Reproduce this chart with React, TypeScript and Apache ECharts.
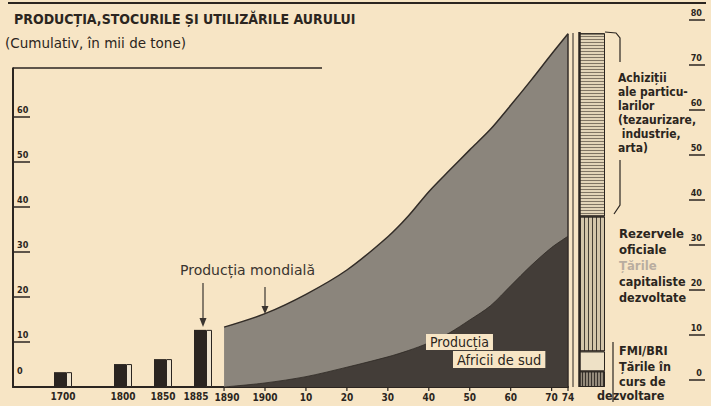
import React, { useEffect, useRef } from 'react';
import * as echarts from 'echarts';

// ---- data ----
const barCategories = ['', '', '1700', '', '', '1800', '', '1850', '', '1885'];
const barValues = [null, null, 3.3, null, null, 5.1, null, 6.2, null, 12.7];

const prodYears = [1890, 1900, 1910, 1920, 1930, 1935, 1940, 1945, 1950, 1955, 1960, 1965, 1970, 1974];
const worldProduction = [13.3, 16.3, 20.6, 26.0, 33.4, 38.0, 43.4, 48.1, 52.7, 57.2, 62.6, 68.2, 74.0, 78.5];
const southAfricaProduction = [0, 0.9, 2.3, 4.4, 6.7, 8.1, 9.8, 12.0, 14.9, 18.0, 22.5, 27.0, 31.0, 33.5];

const stockNames = ['Țările în curs de dezvoltare', 'FMI/BRI', 'Rezervele oficiale', 'Achiziții ale particularilor'];
const stockValues = [3.5, 4.4, 30.0, 40.7];

const xTickYears = [1890, 1900, 1910, 1920, 1930, 1940, 1950, 1960, 1970, 1974];
const leftTicks = [10, 20, 30, 40, 50, 60];
const rightTicks = [0, 10, 20, 30, 40, 50, 60, 70, 80];

const INK = '#2b2520';
const PAPER = '#f7e5c5';
const FONT = "'DejaVu Sans Condensed', 'Liberation Sans Narrow', 'DejaVu Sans', sans-serif";
const WIDE = "'DejaVu Sans', sans-serif";

// axis geometry (pixels) shared by the grids and the tick underlines
const BASE_Y = 387;
const LEFT_TOP = 117; // value 60 on the left axis
const RIGHT_BOTTOM = 380; // value 0 on the right axis
const RIGHT_TOP = 20; // value 80 on the right axis
const X0 = 213;
const X1 = 568;
const XMIN = 1887.3;
const XMAX = 1974;

export default function App() {
  const ref = useRef<HTMLDivElement>(null);
  useEffect(() => {
    if (!ref.current) return;
    const chart = echarts.init(ref.current, undefined, { renderer: 'svg' });
    const axisLabelBase = { color: INK, fontFamily: FONT, fontWeight: 'bold' as const, fontSize: 10 };
    const stockStyles = [
      { color: '#948a7b', decal: { symbol: 'rect', symbolSize: 1, symbolKeepAspect: false, color: 'rgba(40,34,30,0.85)', dashArrayX: [1, 2], dashArrayY: [10, 0], rotation: 0 } },
      { color: '#eee1c6' },
      { color: '#d3c5aa', decal: { symbol: 'rect', symbolSize: 1, symbolKeepAspect: false, color: 'rgba(45,40,34,0.85)', dashArrayX: [1, 3], dashArrayY: [10, 0], rotation: 0 } },
      { color: '#e2d4b8', decal: { symbol: 'rect', symbolSize: 1, symbolKeepAspect: false, color: 'rgba(95,85,72,0.75)', dashArrayX: [10, 0], dashArrayY: [1, 2], rotation: 0 } },
    ];
    const tickLines: any[] = [
      ...leftTicks.map((v) => {
        const y = BASE_Y - (v / 60) * (BASE_Y - LEFT_TOP);
        return { type: 'line', z: 100, shape: { x1: 13, y1: y, x2: 30, y2: y }, style: { stroke: INK, lineWidth: 1.5 } };
      }),
      ...rightTicks.map((v) => {
        const y = RIGHT_BOTTOM - (v / 80) * (RIGHT_BOTTOM - RIGHT_TOP);
        return { type: 'line', z: 100, shape: { x1: 689, y1: y, x2: 705, y2: y }, style: { stroke: INK, lineWidth: 1.5 } };
      }),
      ...xTickYears.map((yr) => {
        const x = X0 + ((yr - XMIN) / (XMAX - XMIN)) * (X1 - X0);
        return { type: 'line', z: 100, shape: { x1: x, y1: BASE_Y, x2: x, y2: BASE_Y + 4 }, style: { stroke: INK, lineWidth: 1.2 } };
      }),
    ];
    const graphic: any[] = [
      { type: 'line', z: 100, shape: { x1: 8, y1: 3, x2: 706, y2: 3 }, style: { stroke: INK, lineWidth: 2 } },
      { type: 'line', z: 100, shape: { x1: 13, y1: 68, x2: 322, y2: 68 }, style: { stroke: INK, lineWidth: 1.5 } },
      { type: 'line', z: 100, shape: { x1: 13, y1: 67.5, x2: 13, y2: 118 }, style: { stroke: INK, lineWidth: 2 } },
      { type: 'line', z: 100, shape: { x1: 573, y1: 33, x2: 573, y2: 387 }, style: { stroke: INK, lineWidth: 1 } },
      { type: 'line', z: 100, shape: { x1: 579.5, y1: 32, x2: 579.5, y2: 387 }, style: { stroke: INK, lineWidth: 2.5 } },
      { type: 'polyline', z: 100, shape: { points: [[605, 32], [616, 33], [620, 38], [620, 62]] }, style: { stroke: INK, lineWidth: 1.2, fill: null } },
      { type: 'polyline', z: 100, shape: { points: [[620, 160], [620, 205], [614, 214]] }, style: { stroke: INK, lineWidth: 1.2, fill: null } },
      { type: 'line', z: 100, shape: { x1: 613, y1: 342, x2: 613, y2: 402 }, style: { stroke: INK, lineWidth: 1.2 } },
      ...tickLines,
      {
        type: 'text', z: 100, left: 14, top: 12,
        style: { text: 'PRODUCȚIA,STOCURILE ȘI UTILIZĂRILE AURULUI', fill: INK, font: `bold 14px ${FONT}` },
      },
      {
        type: 'text', z: 100, left: 5, top: 36,
        style: { text: '(Cumulativ, în mii de tone)', fill: INK, font: `13.5px ${WIDE}` },
      },
      {
        type: 'text', z: 100, left: 180, top: 263,
        style: { text: 'Producția mondială', fill: '#3a342f', font: `14px ${WIDE}` },
      },
      { type: 'line', z: 100, shape: { x1: 203, y1: 283, x2: 203, y2: 320 }, style: { stroke: '#3a342f', lineWidth: 1.2 } },
      { type: 'polygon', z: 100, shape: { points: [[199.5, 318], [206.5, 318], [203, 327]] }, style: { fill: '#3a342f' } },
      { type: 'line', z: 100, shape: { x1: 265, y1: 287, x2: 265, y2: 308 }, style: { stroke: '#3a342f', lineWidth: 1.2 } },
      { type: 'polygon', z: 100, shape: { points: [[261.5, 306], [268.5, 306], [265, 314]] }, style: { fill: '#3a342f' } },
      {
        type: 'text', z: 100, left: 426, top: 334,
        style: { text: 'Producția', fill: INK, font: `14px ${FONT}`, backgroundColor: PAPER, padding: [1, 4, 1, 4] },
      },
      {
        type: 'text', z: 100, left: 453, top: 351,
        style: { text: 'Africii de sud', fill: INK, font: `14.5px ${FONT}`, backgroundColor: PAPER, padding: [1, 4, 1, 4] },
      },
      {
        type: 'text', z: 100, left: 618, top: 71,
        style: { text: 'Achiziții\nale particu-\nlarilor\n(tezaurizare,\n industrie,\narta)', fill: INK, font: `bold 12px ${FONT}`, lineHeight: 14 },
      },
      {
        type: 'text', z: 100, left: 619, top: 225,
        style: { text: 'Rezervele\noficiale', fill: INK, font: `bold 13px ${FONT}`, lineHeight: 16 },
      },
      {
        type: 'text', z: 100, left: 619, top: 257,
        style: { text: 'Țările', fill: '#b9ada0', font: `bold 13px ${FONT}`, lineHeight: 16 },
      },
      {
        type: 'text', z: 100, left: 619, top: 273,
        style: { text: 'capitaliste\ndezvoltate', fill: INK, font: `bold 12.5px ${FONT}`, lineHeight: 16 },
      },
      {
        type: 'text', z: 100, left: 619, top: 343,
        style: { text: 'FMI/BRI\nȚările în\ncurs de', fill: INK, font: `bold 12.5px ${FONT}`, lineHeight: 15.5 },
      },
      {
        type: 'text', z: 100, left: 597, top: 389,
        style: { text: 'dezvoltare', fill: INK, font: `bold 12.5px ${FONT}` },
      },
    ];
    const option: any = {
      animation: false,
      backgroundColor: PAPER,
      grid: [
        { left: 13, width: 200, top: LEFT_TOP, bottom: 406 - BASE_Y },
        { left: X0, width: X1 - X0, top: 27, bottom: 406 - BASE_Y },
        { left: 579, width: 26, top: 27, bottom: 406 - BASE_Y },
        { left: 689, right: 6, top: RIGHT_TOP, bottom: 406 - RIGHT_BOTTOM },
        { left: 13, width: 17, top: LEFT_TOP, bottom: 406 - BASE_Y },
      ],
      xAxis: [
        {
          gridIndex: 0, type: 'category', data: barCategories,
          axisLine: { lineStyle: { color: INK, width: 2 } },
          axisTick: { show: false },
          axisLabel: {
            ...axisLabelBase, interval: 0, margin: 4,
            formatter: (v: string) => (v === '1885' ? '{s|1885}' : v),
            rich: { s: { ...axisLabelBase, padding: [0, 14, 0, 0] } },
          },
        },
        {
          gridIndex: 1, type: 'value', min: XMIN, max: XMAX, splitNumber: 9,
          axisLine: { show: true, lineStyle: { color: INK, width: 2 } },
          axisTick: { show: false },
          splitLine: { show: false },
          axisLabel: {
            ...axisLabelBase, margin: 5, showMinLabel: true, showMaxLabel: true,
            formatter: (v: number) => {
              if (!xTickYears.includes(Math.round(v * 10) / 10)) return '';
              if (v === 1890) return '{a|1890}';
              if (v === 1900) return '1900';
              return String(v % 100);
            },
            rich: { a: { ...axisLabelBase, padding: [0, 0, 0, 6] } },
          },
        },
        { gridIndex: 2, type: 'category', data: ['1974'], show: false },
        { gridIndex: 3, type: 'value', min: 0, max: 1, show: false },
        { gridIndex: 4, type: 'value', min: 0, max: 1, show: false },
      ],
      yAxis: [
        { gridIndex: 0, type: 'value', min: 0, max: 60, interval: 10, show: false },
        { gridIndex: 1, type: 'value', min: 0, max: 80, show: false },
        { gridIndex: 2, type: 'value', min: 0, max: 80, show: false },
        {
          gridIndex: 3, type: 'value', min: 0, max: 80, interval: 10, position: 'right',
          axisLine: { show: false },
          axisTick: { show: false },
          splitLine: { show: false },
          axisLabel: {
            ...axisLabelBase, fontSize: 9, inside: true, margin: 3,
            verticalAlign: 'bottom', padding: [0, 0, 3, 0],
          },
        },
        {
          gridIndex: 4, type: 'value', min: 0, max: 60, interval: 10, position: 'left',
          axisLine: { show: true, lineStyle: { color: INK, width: 2 } },
          axisTick: { show: false },
          splitLine: { show: false },
          axisLabel: {
            ...axisLabelBase, fontSize: 9, inside: true, margin: 4,
            verticalAlign: 'bottom', padding: [0, 0, 3, 0],
            formatter: (v: number) => (v === 0 ? '{z|0}' : String(v)),
            rich: { z: { ...axisLabelBase, fontSize: 9, padding: [0, 0, 9, 0] } },
          },
        },
      ],
      series: [
        {
          type: 'bar', xAxisIndex: 0, yAxisIndex: 0, data: barValues, barWidth: 12, barGap: '0%',
          itemStyle: { color: '#2a2420' },
        },
        {
          type: 'bar', xAxisIndex: 0, yAxisIndex: 0, data: barValues, barWidth: 6,
          itemStyle: { color: '#efe4cf', borderColor: INK, borderWidth: 1 },
        },
        {
          name: 'Producția mondială', type: 'line', xAxisIndex: 1, yAxisIndex: 1,
          data: prodYears.map((y, i) => [y, worldProduction[i]]),
          smooth: 0.3, symbol: 'none',
          lineStyle: { color: '#332d28', width: 1.5 },
          areaStyle: { color: '#8b857c', opacity: 1 },
          markLine: {
            silent: true, symbol: 'none', label: { show: false },
            lineStyle: { color: '#332d28', width: 1.5, type: 'solid' },
            data: [[{ coord: [1974, 0] }, { coord: [1974, worldProduction[worldProduction.length - 1]] }]],
          },
        },
        {
          name: 'Producția Africii de sud', type: 'line', xAxisIndex: 1, yAxisIndex: 1,
          data: prodYears.map((y, i) => [y, southAfricaProduction[i]]),
          smooth: 0.3, symbol: 'none',
          lineStyle: { color: '#2e2924', width: 0.8 },
          areaStyle: { color: '#433d38', opacity: 1 },
        },
        ...stockNames.map((n, i) => ({
          name: n, type: 'bar', stack: 'stock', xAxisIndex: 2, yAxisIndex: 2, barWidth: '100%',
          data: [stockValues[i]],
          itemStyle: { ...stockStyles[i], borderColor: INK, borderWidth: 1 },
        })),
      ],
      graphic,
    };
    chart.setOption(option);
    return () => chart.dispose();
  }, []);
  return (
    <div
      ref={ref}
      style={{ position: 'absolute', left: 0, top: 0, width: 711, height: 406, background: PAPER }}
    />
  );
}
